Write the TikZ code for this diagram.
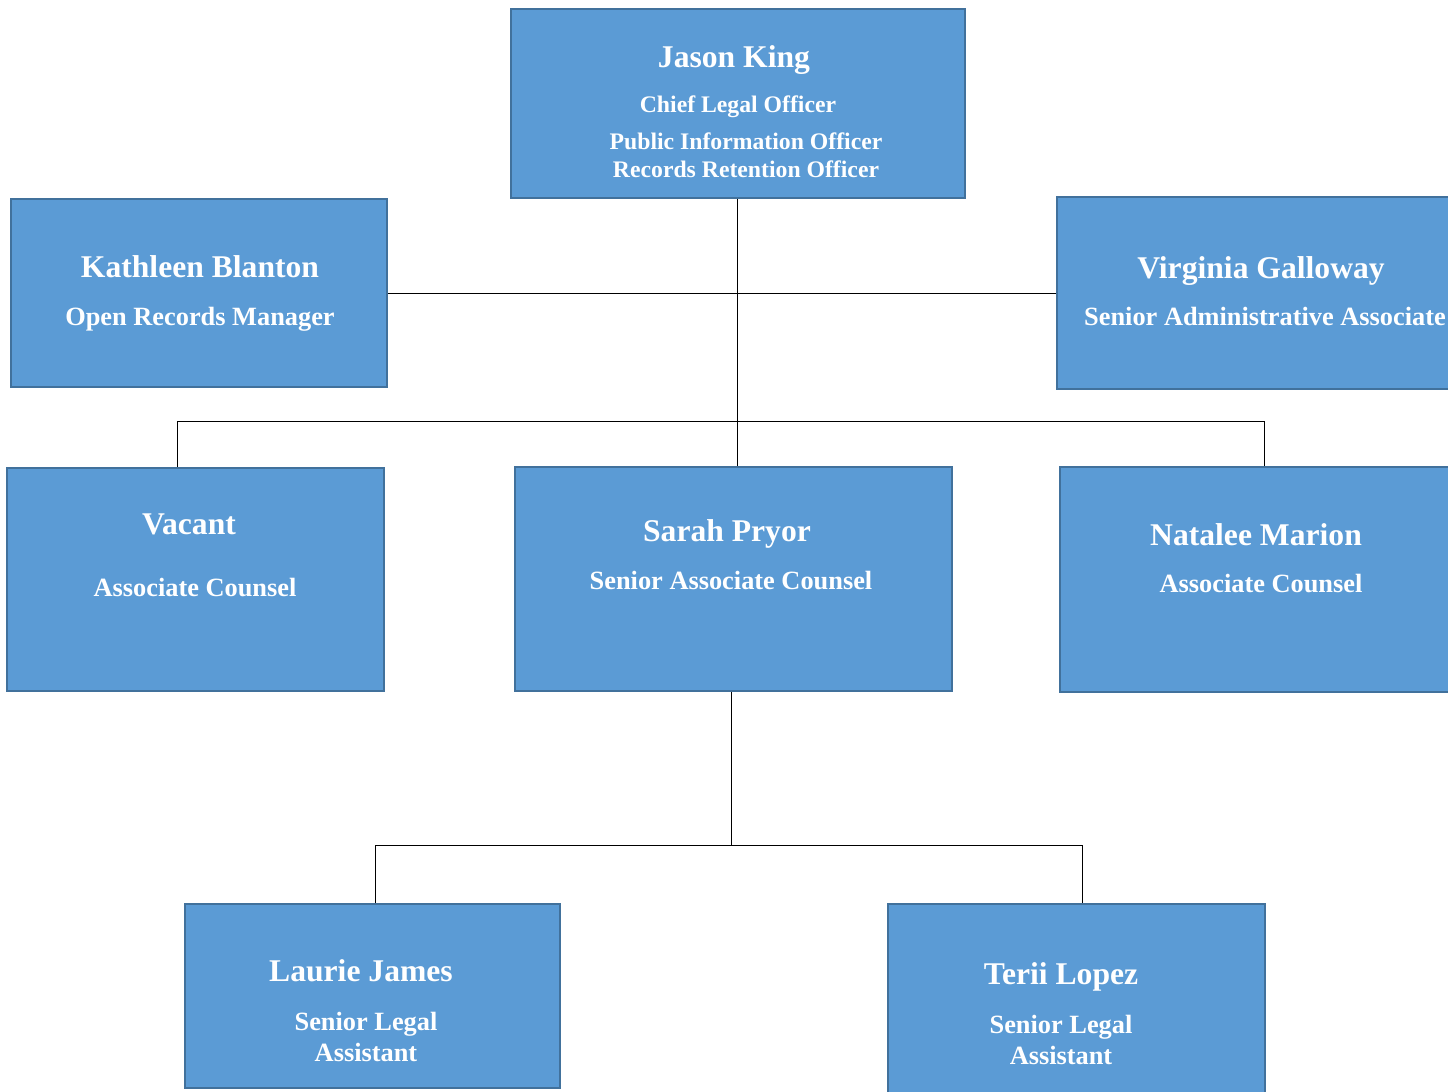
\documentclass[tikz,border=0pt]{standalone}
\usepackage{fontspec}
\setmainfont{Liberation Serif}
\definecolor{boxfill}{HTML}{5B9BD5}
\definecolor{boxline}{HTML}{41719C}
\tikzset{
    box/.style={draw=boxline,fill=boxfill,line width=1.1pt,rectangle,inner sep=0pt},
    person/.style={text=white,font=\bfseries\fontsize{18}{20}\selectfont,inner sep=0pt},
    role/.style={text=white,font=\bfseries\fontsize{15}{17.6}\selectfont,inner sep=0pt,align=center},
    rolesm/.style={text=white,font=\bfseries\fontsize{13.5}{15.9}\selectfont,inner sep=0pt,align=center},
    link/.style={draw=black,line width=0.5pt}
}
\begin{document}
\begin{tikzpicture}[x=0.02cm,y=-0.02cm]
    \useasboundingbox (0,0) rectangle (1448,1092);
    \clip (0,0) rectangle (1448,1092);

    % Cajas
    \node[box,minimum width=9.08cm,minimum height=3.78cm] (jk) at (738,103.5) {};
    \node[box,minimum width=7.52cm,minimum height=3.76cm] (kb) at (199,293) {};
    \node[box,minimum width=8.06cm,minimum height=3.84cm] (vg) at (1258.5,293) {};
    \node[box,minimum width=7.54cm,minimum height=4.46cm] (vc) at (195.5,579.5) {};
    \node[box,minimum width=8.74cm,minimum height=4.48cm] (sp) at (733.5,579) {};
    \node[box,minimum width=8.00cm,minimum height=4.50cm] (nm) at (1260,579.5) {};
    \node[box,minimum width=7.50cm,minimum height=3.68cm] (lj) at (372.5,996) {};
    \node[box,minimum width=7.54cm,minimum height=3.92cm] (tl) at (1076.5,1002) {};

    % Textos
    \node[person] (jkname) at (734,60) {Jason King};
    \node[rolesm] (jkrole) at (738,107) {Chief Legal Officer};
    \node[rolesm] (jkrole2) at (746,155) {Public Information Officer\\Records Retention Officer};
    \node[person] (kbname) at (200,267) {Kathleen Blanton};
    \node[role] (kbrole) at (200,319) {Open Records Manager};
    \node[person] (vgname) at (1261,271) {Virginia Galloway};
    \node[role] (vgrole) at (1265,316) {Senior Administrative Associate};
    \node[person] (vcname) at (189,524) {Vacant};
    \node[role] (vcrole) at (195,588) {Associate Counsel};
    \node[person] (spname) at (727,534) {Sarah Pryor};
    \node[role] (sprole) at (731,581) {Senior Associate Counsel};
    \node[person] (nmname) at (1256,535) {Natalee Marion};
    \node[role] (nmrole) at (1261,584) {Associate Counsel};
    \node[person] (ljname) at (361,971) {Laurie James};
    \node[role] (ljrole) at (366,1037) {Senior Legal\\Assistant};
    \node[person] (tlname) at (1061,977) {Terii Lopez};
    \node[role] (tlrole) at (1061,1040) {Senior Legal\\Assistant};

    % Conectores
    \coordinate (top) at (737,421);
    \coordinate (vcin) at (177,421);
    \coordinate (nmin) at (1264,421);
    \draw[link] (top |- jk.south) -- (top |- sp.north);
    \draw[link] (kb.east) -- (vg.west);
    \draw[link] (vcin |- vc.north) -- (vcin) -- (nmin) -- (nmin |- nm.north);

    \coordinate (low) at (731,845);
    \coordinate (ljin) at (375,845);
    \coordinate (tlin) at (1082,845);
    \draw[link] (low |- sp.south) -- (low);
    \draw[link] (ljin |- lj.north) -- (ljin) -- (tlin) -- (tlin |- tl.north);
\end{tikzpicture}
\end{document}
